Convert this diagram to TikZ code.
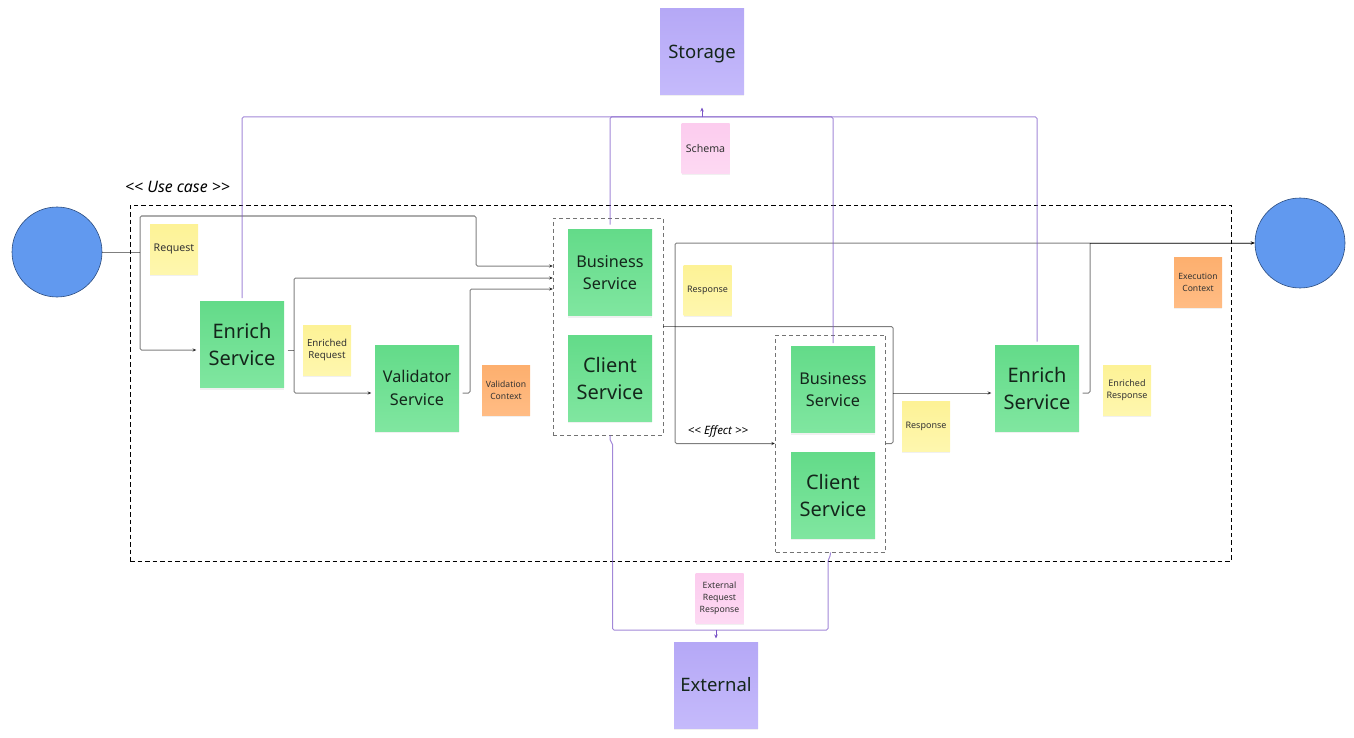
\documentclass[tikz,border=0pt]{standalone}
\usepackage{fontspec}
\setmainfont{Noto Sans}
\usetikzlibrary{arrows.meta,shadows}
\definecolor{greentop}{HTML}{63DB89}
\definecolor{greenbot}{HTML}{80E6A0}
\definecolor{purpletop}{HTML}{B5A8F6}
\definecolor{purplebot}{HTML}{C5BAFB}
\definecolor{yellowtop}{HTML}{FDF296}
\definecolor{yellowbot}{HTML}{FEF7AE}
\definecolor{orangetop}{HTML}{FDAF6E}
\definecolor{orangebot}{HTML}{FFBC84}
\definecolor{pinktop}{HTML}{FCCCEE}
\definecolor{pinkbot}{HTML}{FDD9F3}
\definecolor{bluefill}{HTML}{6199EF}
\definecolor{bluedark}{HTML}{2B4C7E}
\definecolor{inkdark}{HTML}{14261B}
\definecolor{linkpurple}{HTML}{7B55C7}
\tikzset{
  card/.style={minimum width=84pt,minimum height=86pt,inner sep=0pt,outer sep=3.5pt,align=center,
    text=inkdark,drop shadow={opacity=.12,shadow xshift=0pt,shadow yshift=-2pt}},
  service/.style={card,top color=greentop,bottom color=greenbot,font=\fontsize{20}{27}\selectfont},
  smallservice/.style={card,top color=greentop,bottom color=greenbot,font=\fontsize{16.2}{22.5}\selectfont},
  system/.style={card,top color=purpletop,bottom color=purplebot,font=\fontsize{18.5}{24}\selectfont},
  sticky/.style={minimum width=48pt,minimum height=50pt,inner sep=0pt,align=center,text=black!80,
    font=\fontsize{9}{11.8}\selectfont,drop shadow={opacity=.12,shadow xshift=0pt,shadow yshift=-1.5pt}},
  yellownote/.style={sticky,top color=yellowtop,bottom color=yellowbot},
  orangenote/.style={sticky,top color=orangetop,bottom color=orangebot,font=\fontsize{8.6}{11.8}\selectfont},
  pinknote/.style={sticky,top color=pinktop,bottom color=pinkbot},
  actor/.style={circle,draw=bluedark,fill=bluefill,minimum size=90pt,inner sep=0pt,line width=.6pt},
  group/.style={draw=black!55,line width=.95pt,dash pattern=on 4pt off 3pt,minimum width=110pt,minimum height=217pt,inner sep=0pt},
  flow/.style={draw=black,draw opacity=.5,line width=1pt,rounded corners=1.5pt},
  store/.style={draw=linkpurple,draw opacity=.7,line width=1pt,rounded corners=1.5pt},
  tip/.style={-{Stealth[length=4pt,width=3.5pt]}}
}
\begin{document}
\begin{tikzpicture}[x=1pt,y=-1pt]
  \useasboundingbox (0,0) rectangle (1354,738);

  % Use case frame
  \node[draw=black,line width=.9pt,dash pattern=on 4.5pt off 3pt,minimum width=1101pt,minimum height=356pt,inner sep=0pt] (usecase) at (680.5,383) {};
  \node[font=\fontsize{15.8}{18}\selectfont\itshape] (usecaselabel) at (177.5,187) {<\kern0pt< Use case >\kern0pt>};

  % Actors
  \node[actor] (clientin) at (57,252) {};
  \node[actor] (clientout) at (1300,243) {};

  % Systems
  \node[system,text depth=0pt] (storage) at (702,51.5) {Storage};
  \node[system] (external) at (716,685) {External};

  % Groups
  \node[group] (groupa) at (608,326.5) {};
  \node[group] (groupb) at (830.5,443.5) {};

  % Services
  \node[service] (enrichin) at (242,344.5) {Enrich\\Service};
  \node[smallservice] (validator) at (417,388) {Validator\\Service};
  \node[smallservice] (businessa) at (610,272.5) {Business\\Service};
  \node[service] (clienta) at (610,378) {Client\\Service};
  \node[smallservice] (businessb) at (833,389.5) {Business\\Service};
  \node[service] (clientb) at (833,495) {Client\\Service};
  \node[service] (enrichout) at (1037,388) {Enrich\\Service};

  % Notes
  \node[yellownote,font=\fontsize{10.6}{12}\selectfont] (noterequest) at (174,249) {Request};
  \node[yellownote,font=\fontsize{9.7}{12}\selectfont] (noteenriched) at (327,350) {Enriched\\Request};
  \node[orangenote] (notevalidation) at (506,390) {Validation\\Context};
  \node[yellownote] (noteresponsea) at (707.5,290) {Response};
  \node[yellownote] (noteresponseb) at (926,426) {Response};
  \node[yellownote] (noteenrichedout) at (1127,390) {Enriched\\Response};
  \node[orangenote] (noteexecution) at (1198,282) {Execution\\Context};
  \node[pinknote,font=\fontsize{10.6}{12}\selectfont] (noteschema) at (705.5,149) {Schema};
  \node[pinknote,font=\fontsize{8.7}{11.8}\selectfont] (noteexternal) at (719.5,598.5) {External\\Request\\Response};
  \node[font=\fontsize{11.5}{13}\selectfont\itshape] (effectlabel) at (718,431.5) {<\kern0pt< Effect >\kern0pt>};

  % Junctions
  \coordinate (split) at (140,252);
  \coordinate (splitenrich) at (294,350);
  \coordinate (splitgroup) at (675,326.5);
  \coordinate (joinb) at (893,393);
  \coordinate (joinout) at (1090,243);
  \coordinate (enterone) at (553,266);
  \coordinate (entertwo) at (553,278);
  \coordinate (enterthree) at (553,289);
  \coordinate (busstore) at (702,117);
  \coordinate (busext) at (716,630);

  % Request side
  \draw[flow] (clientin.east) -- (split);
  \draw[flow,tip] (split) -- (140,216) -- (476,216) -- (476,266) -- (enterone);
  \draw[flow,tip] (split) |- ([yshift=-5.5pt]enrichin.west);
  \draw[flow] ([yshift=-5.5pt]enrichin.east) -- (splitenrich);
  \draw[flow,tip] (splitenrich) |- (entertwo);
  \draw[flow,tip] (splitenrich) |- ([yshift=-5pt]validator.west);
  \draw[flow,tip] ([yshift=-5pt]validator.east) -- (470,393) |- (enterthree);

  % Response side
  \draw[flow] (groupa.east) -- (splitgroup);
  \draw[flow,tip] (splitgroup) -- (675,243) -- (joinout) -- (clientout.west);
  \draw[flow,tip] (splitgroup) |- (groupb.west);
  \draw[flow] (splitgroup) -- (893,326.5) -- (joinb);
  \draw[flow] (groupb.east) -- (893,443.5) -- (joinb);
  \draw[flow,tip] (joinb) -- ([yshift=-5pt]enrichout.west);
  \draw[flow] ([yshift=-5pt]enrichout.east) -- (1090,393) -- (joinout);
  \draw[flow,tip] (joinout) -- (clientout.west);

  % Storage links
  \draw[store] (enrichin.north) |- (busstore);
  \draw[store] ([yshift=-7pt]groupa.north -| businessa.north) -- (610,117) -- (busstore);
  \draw[store] (businessb.north) -- (833,117) -- (busstore);
  \draw[store] (enrichout.north) |- (busstore);
  \draw[store,tip,draw opacity=1] (busstore) -- ([yshift=-9.5pt]storage.south);

  % External links
  \draw[store] (groupa.south -| businessa.south) -- (610,441) -- (612.5,443) -- (612.5,630) -- (busext);
  \draw[store] (groupb.south) -- (830,557) -- (828,560) -- (828,630) -- (busext);
  \draw[store,tip,draw opacity=1] (busext) -- (external.north);
\end{tikzpicture}
\end{document}
